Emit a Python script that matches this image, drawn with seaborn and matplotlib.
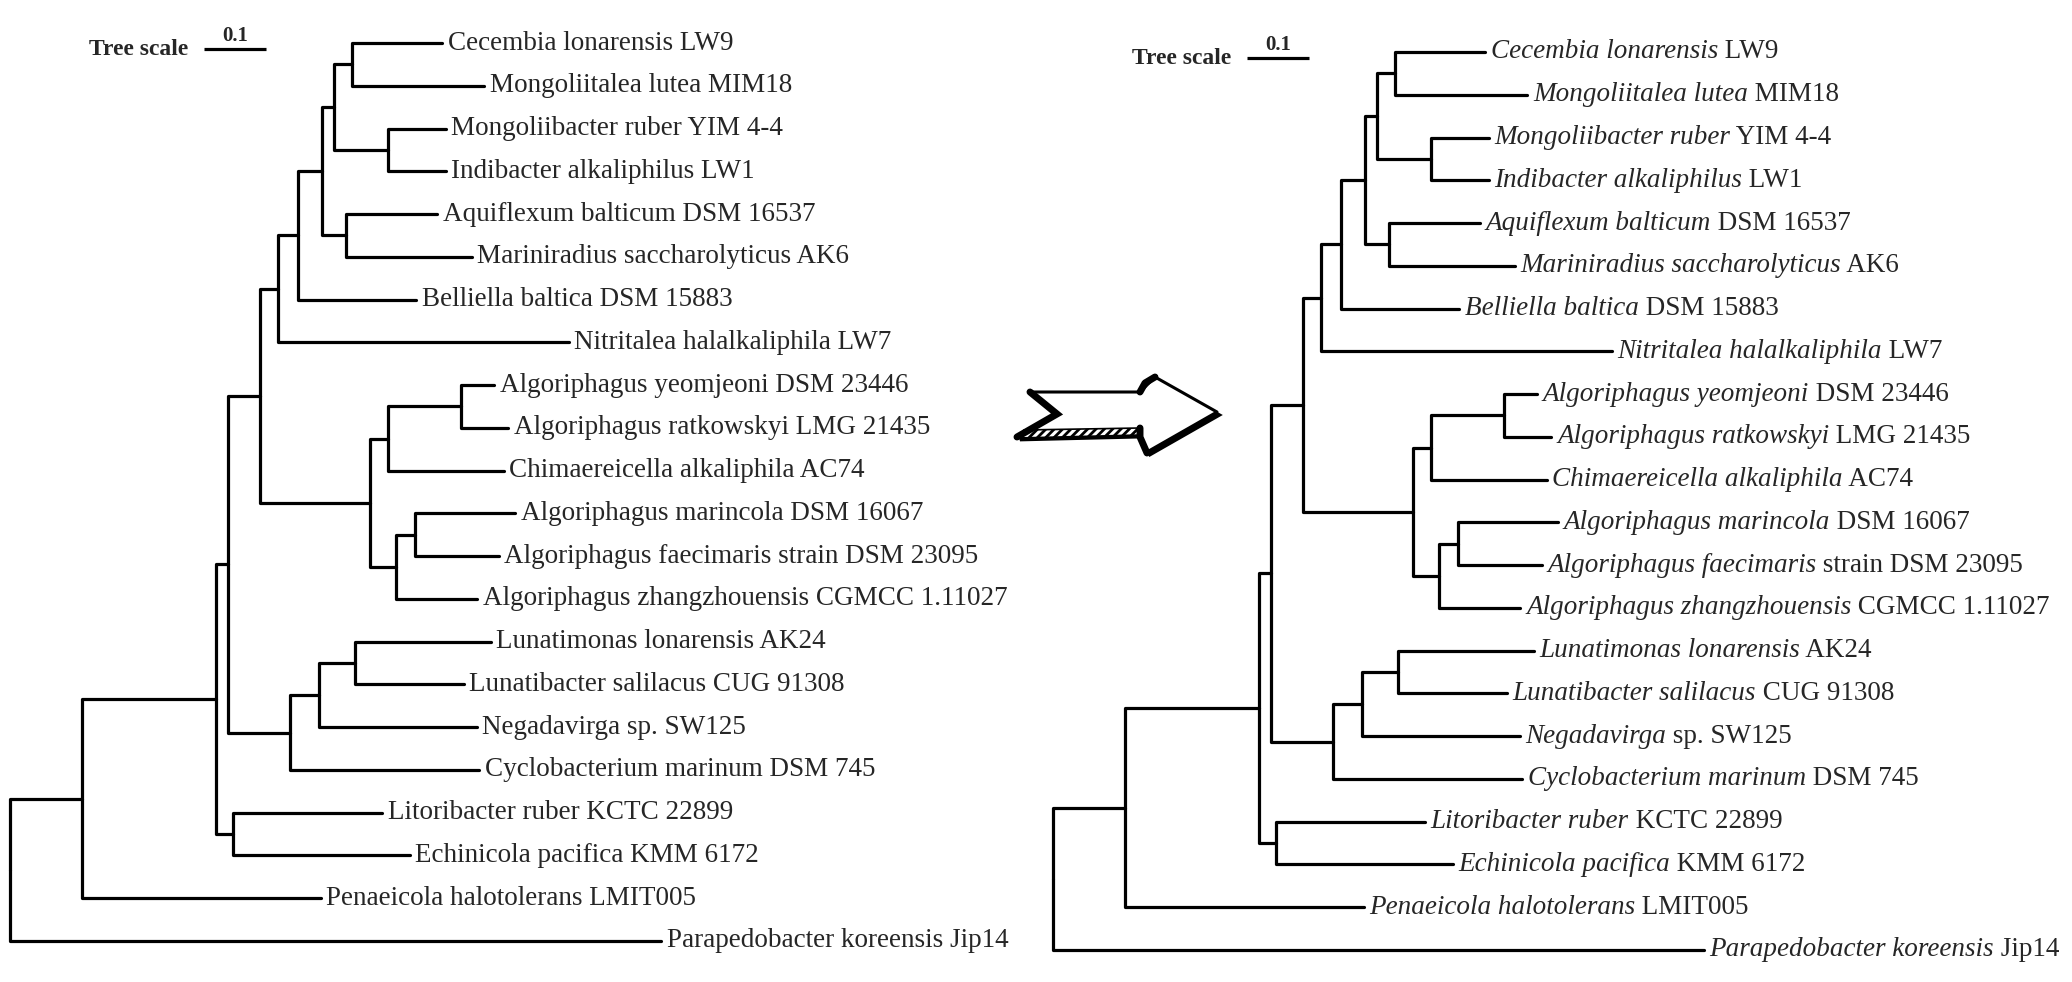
import matplotlib
matplotlib.use("Agg")
import numpy as np
import pandas as pd
import matplotlib.pyplot as plt
from matplotlib.patches import Polygon
import seaborn as sns

# tree topology + branch lengths (substitutions/site)
newick = ("((((((((((Cecembia_lonarensis:0.145,Mongoliitalea_lutea:0.213):0.030,"
          "(Mongoliibacter_ruber:0.094,Indibacter_alkaliphilus:0.094):0.087):0.019,"
          "(Aquiflexum_balticum:0.147,Mariniradius_saccharolyticus:0.203):0.039):0.039,"
          "Belliella_baltica:0.191):0.032,Nitritalea_halalkaliphila:0.469):0.029,"
          "(((Algoriphagus_yeomjeoni:0.053,Algoriphagus_ratkowskyi:0.076):0.119,"
          "Chimaereicella_alkaliphila:0.187):0.029,"
          "((Algoriphagus_marincola:0.161,Algoriphagus_faecimaris:0.134):0.032,"
          "Algoriphagus_zhangzhouensis:0.132):0.042):0.177):0.052,"
          "(((Lunatimonas_lonarensis:0.219,Lunatibacter_salilacus:0.176):0.058,"
          "Negadavirga:0.255):0.047,Cyclobacterium_marinum:0.306):0.100):0.019,"
          "(Litoribacter_ruber:0.240,Echinicola_pacifica:0.285):0.028):0.216,"
          "Penaeicola_halotolerans:0.385):0.116,Parapedobacter_koreensis:1.050);")

species = ["Cecembia lonarensis", "Mongoliitalea lutea", "Mongoliibacter ruber",
           "Indibacter alkaliphilus", "Aquiflexum balticum", "Mariniradius saccharolyticus",
           "Belliella baltica", "Nitritalea halalkaliphila", "Algoriphagus yeomjeoni",
           "Algoriphagus ratkowskyi", "Chimaereicella alkaliphila", "Algoriphagus marincola",
           "Algoriphagus faecimaris", "Algoriphagus zhangzhouensis", "Lunatimonas lonarensis",
           "Lunatibacter salilacus", "Negadavirga", "Cyclobacterium marinum",
           "Litoribacter ruber", "Echinicola pacifica", "Penaeicola halotolerans",
           "Parapedobacter koreensis"]
strains = ["LW9", "MIM18", "YIM 4-4", "LW1", "DSM 16537", "AK6", "DSM 15883", "LW7",
           "DSM 23446", "LMG 21435", "AC74", "DSM 16067", "strain DSM 23095",
           "CGMCC 1.11027", "AK24", "CUG 91308", "sp. SW125", "DSM 745", "KCTC 22899",
           "KMM 6172", "LMIT005", "Jip14"]
strain_of = dict(zip(species, strains))

scale_len = 0.1


def parse_newick(s):
    pos = 0

    def node():
        nonlocal pos
        children = []
        if s[pos] == "(":
            pos += 1
            children.append(node())
            while s[pos] == ",":
                pos += 1
                children.append(node())
            pos += 1
        start = pos
        while s[pos] not in ":,);":
            pos += 1
        name = s[start:pos].replace("_", " ")
        length = 0.0
        if s[pos] == ":":
            pos += 1
            start = pos
            while s[pos] not in ",);":
                pos += 1
            length = float(s[start:pos])
        return {"name": name, "len": length, "children": children}

    return node()


def layout(t, depth, leaves):
    t["x"] = depth + t["len"]
    if not t["children"]:
        t["y"] = len(leaves)
        leaves.append(t)
    else:
        for c in t["children"]:
            layout(c, t["x"], leaves)
        t["y"] = (t["children"][0]["y"] + t["children"][-1]["y"]) / 2


def edge_rows(t, rows):
    for c in t["children"]:
        e = len(rows) // 3
        rows += [(e, t["x"], t["y"]), (e, t["x"], c["y"]), (e, c["x"], c["y"])]
        edge_rows(c, rows)
    return rows


tree = parse_newick(newick)
leaves = []
layout(tree, 0.0, leaves)
edges = pd.DataFrame(edge_rows(tree, []), columns=["edge", "x", "y"])

sns.set_theme(style="white")
plt.rcParams["font.family"] = ["Liberation Serif", "DejaVu Serif"]

W, H = 2072, 982
fig = plt.figure(figsize=(W / 100, H / 100), dpi=100)
px_per_unit = 620.0
row_h = 42.76
fs = 19.5


def draw_tree(root_px, top_px, italic):
    ax = fig.add_axes([0, 0, 1, 1])
    ax.patch.set_alpha(0)
    sns.lineplot(data=edges, x="x", y="y", units="edge", estimator=None, sort=False,
                 color="black", linewidth=2.3, ax=ax, legend=False)
    for leaf in leaves:
        sp = leaf["name"]
        if italic:
            t1 = ax.annotate(sp, xy=(leaf["x"], leaf["y"]), xytext=(4, 0),
                             textcoords="offset points", va="center", ha="left",
                             fontsize=fs, style="italic")
            ax.annotate(" " + strain_of[sp], xy=(1, 0), xycoords=t1, va="bottom",
                        ha="left", fontsize=fs)
        else:
            ax.annotate(sp + " " + strain_of[sp], xy=(leaf["x"], leaf["y"]), xytext=(4, 0),
                        textcoords="offset points", va="center", ha="left", fontsize=fs)
    # tree scale
    bx = 0.313
    by = 0.14
    ax.plot([bx, bx + scale_len], [by, by], color="black", linewidth=2.3,
            solid_capstyle="butt")
    ax.text(bx + scale_len / 2, by - 0.3, "0.1", ha="center", va="center",
            fontsize=15, fontweight="bold")
    ax.text(bx - 0.026, by + 0.15, "Tree scale", ha="right", va="baseline",
            fontsize=17, fontweight="bold")
    ax.set_xlim(-root_px / px_per_unit, (W - root_px) / px_per_unit)
    ax.set_ylim((H - top_px) / row_h, -top_px / row_h)
    ax.set_axis_off()
    return ax


draw_tree(10, 43, italic=False)
draw_tree(1053, 52, italic=True)

# hand-drawn style arrow between the two trees
axa = fig.add_axes([0, 0, 1, 1])
axa.patch.set_alpha(0)
axa.set_xlim(0, W)
axa.set_ylim(H, 0)
axa.set_axis_off()
plt.rcParams["hatch.linewidth"] = 2.0
dy = 7
body = [(1030, 385), (1057, 407), (1017, 430), (1140, 427), (1147, 445),
        (1217, 405), (1155, 370), (1140, 385)]
body = [(x, y + dy) for x, y in body]
axa.add_patch(Polygon([(x + 3, y + 3) for x, y in body], closed=True,
                      facecolor="black", edgecolor="black", linewidth=2))
axa.add_patch(Polygon(body, closed=True, facecolor="white", edgecolor="black",
                      linewidth=2.2, joinstyle="round"))
axa.add_patch(Polygon([(1024, 423 + dy), (1140, 421 + dy), (1140, 428 + dy), (1018, 431 + dy)],
                      closed=True, facecolor="white", edgecolor="black", hatch="////",
                      linewidth=1.2))
axa.plot([1030, 1057, 1017], [385 + dy, 407 + dy, 430 + dy], color="black", linewidth=5,
         solid_joinstyle="miter")
axa.plot([1140, 1140, 1147], [421 + dy, 430 + dy, 446 + dy], color="black", linewidth=5)
axa.plot([1140, 1145, 1155], [385 + dy, 376 + dy, 370 + dy], color="black", linewidth=5)

fig.savefig("out.png", dpi=100, facecolor="white")
